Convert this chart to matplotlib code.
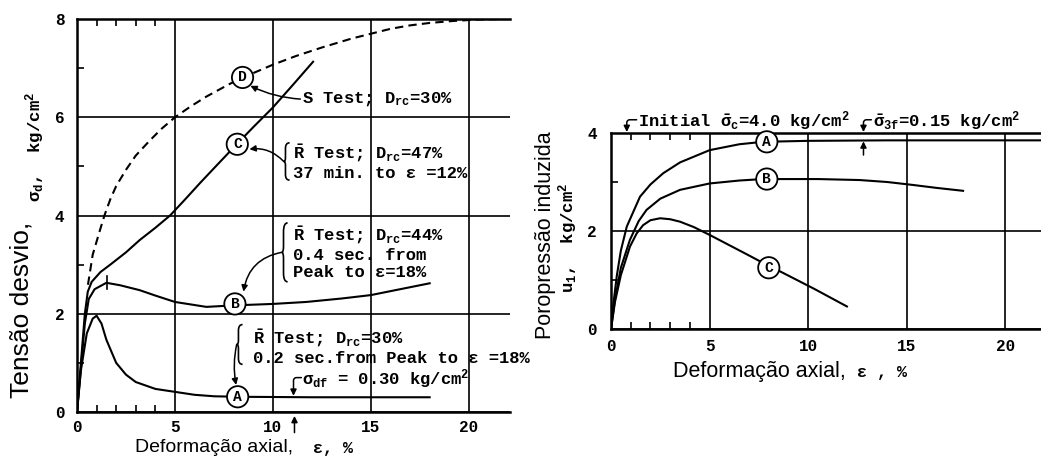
import matplotlib
matplotlib.use("Agg")
import matplotlib.pyplot as plt
from matplotlib.ticker import FixedLocator
from matplotlib.path import Path
from matplotlib.patches import PathPatch

plt.rcParams['mathtext.fontset'] = 'custom'
plt.rcParams['mathtext.rm'] = 'Liberation Mono:bold'
plt.rcParams['mathtext.it'] = 'Liberation Mono:bold'
plt.rcParams['mathtext.bf'] = 'Liberation Mono:bold'
plt.rcParams['mathtext.sf'] = 'Liberation Mono:bold'

MONO = 'Liberation Mono'
SANS = 'Liberation Sans'

# painel esquerdo: tensao desvio x deformacao axial
def_a = [0, 0.2, 0.5, 0.8, 1.0, 1.25, 1.5, 2.0, 2.5, 3.0, 4.0, 5.0, 6.0, 7.0, 8.2, 12.0, 18.0]
sig_a = [0, 0.85, 1.6, 1.9, 1.96, 1.8, 1.47, 1.0, 0.76, 0.61, 0.47, 0.41, 0.35, 0.32, 0.31, 0.30, 0.30]
def_b = [0, 0.2, 0.4, 0.6, 0.9, 1.5, 2.2, 3.2, 4.0, 5.0, 6.6, 8.0, 10.0, 11.7, 13.5, 15.0, 16.5, 18.0]
sig_b = [0, 0.9, 1.8, 2.3, 2.5, 2.63, 2.58, 2.48, 2.37, 2.24, 2.14, 2.17, 2.2, 2.24, 2.31, 2.38, 2.5, 2.62]
def_c = [0, 0.2, 0.4, 0.55, 0.75, 1.2, 1.7, 2.5, 3.2, 4.0, 4.75, 5.5, 6.3, 7.2, 8.2, 9.0, 10.0, 11.0, 12.05]
sig_c = [0, 1.0, 2.0, 2.45, 2.65, 2.85, 3.0, 3.25, 3.5, 3.75, 4.0, 4.32, 4.67, 5.05, 5.47, 5.8, 6.2, 6.65, 7.13]
def_d = [0.56, 0.8, 1.17, 1.4, 1.7, 2.0, 2.5, 3.0, 3.7, 4.3, 5.0, 5.8, 6.6, 7.8, 9.0, 10.0,
         11.2, 12.5, 14.0, 15.0, 16.0, 17.0, 18.0, 19.2, 20.5, 22.0]
sig_d = [2.59, 3.2, 3.7, 4.0, 4.33, 4.6, 4.93, 5.22, 5.52, 5.76, 6.0, 6.22, 6.42, 6.68, 6.9, 7.07,
         7.25, 7.42, 7.6, 7.7, 7.8, 7.87, 7.92, 7.96, 7.99, 8.0]
rotulos_esq = ['A', 'B', 'C', 'D']
pos_rotulos_esq = [(8.2, 0.31), (8.06, 2.2), (8.18, 5.45), (8.45, 6.81)]

# painel direito: poropressao induzida x deformacao axial
def2_a = [0, 0.1, 0.3, 0.5, 0.8, 1.47, 2.0, 2.65, 3.5, 5.0, 6.5, 7.7, 10.0, 14.0, 18.0, 21.8]
u_a = [0, 0.45, 1.1, 1.6, 2.09, 2.7, 2.95, 3.18, 3.4, 3.65, 3.77, 3.82, 3.84, 3.85, 3.85, 3.85]
def2_b = [0, 0.2, 0.5, 0.96, 1.4, 1.8, 2.5, 3.5, 5.0, 6.5, 7.7, 8.6, 10.5, 12.6, 14.0, 15.3, 16.5, 17.85]
u_b = [0, 0.6, 1.25, 1.82, 2.2, 2.43, 2.66, 2.84, 2.97, 3.03, 3.06, 3.06, 3.06, 3.04, 3.0, 2.94, 2.88, 2.82]
def2_c = [0, 0.2, 0.5, 0.96, 1.3, 1.63, 2.0, 2.49, 3.0, 3.5, 4.2, 5.0, 6.0, 7.0, 7.7, 8.6, 10.3, 11.96]
u_c = [0, 0.55, 1.1, 1.68, 1.95, 2.12, 2.22, 2.26, 2.24, 2.19, 2.08, 1.92, 1.71, 1.5, 1.35, 1.17, 0.82, 0.46]
rotulos_dir = ['A', 'B', 'C']
pos_rotulos_dir = [(7.9, 3.82), (7.9, 3.06), (8.0, 1.25)]

W, H = 1041, 462
fig = plt.figure(figsize=(W / 100, H / 100), dpi=100)


def eixo(rect, xmax, ymax, ymenor, ygrade):
    ax = fig.add_axes(rect)
    ax.set_xlim(0, xmax)
    ax.set_ylim(0, ymax)
    ax.spines['right'].set_visible(False)
    for s in ['left', 'bottom', 'top']:
        ax.spines[s].set_linewidth(1.8)
    ax.set_xticks([0, 5, 10, 15, 20])
    ax.set_yticks(ygrade)
    ax.xaxis.set_minor_locator(FixedLocator([1, 2, 3, 4]))
    ax.yaxis.set_minor_locator(FixedLocator(ymenor))
    ax.tick_params(which='major', length=0)
    ax.tick_params(which='minor', direction='in', length=5, width=1.2,
                   top=True, bottom=True, left=True, right=False)
    ax.grid(True, which='major', color='black', lw=1.2)
    for lab in ax.get_xticklabels() + ax.get_yticklabels():
        lab.set_fontfamily(MONO)
        lab.set_fontweight('bold')
        lab.set_fontsize(11.5)
    return ax


def rotulo(ax, letra, x, y):
    ax.text(x, y, letra, ha='center', va='center', fontfamily=MONO,
            fontweight='bold', fontsize=10.5, zorder=5,
            bbox=dict(boxstyle='circle,pad=0.25', fc='white', ec='black', lw=1.3))


def chave(ax, x, y0, y1, w):
    # chave "{" desenhada com curvas
    ym = (y0 + y1) / 2
    h = y1 - y0
    verts = [(x + w, y1), (x + w * 0.3, y1), (x + w * 0.3, y1 - h * 0.15),
             (x + w * 0.3, ym + h * 0.1),
             (x + w * 0.3, ym), (x, ym),
             (x + w * 0.3, ym), (x + w * 0.3, ym - h * 0.1),
             (x + w * 0.3, y0 + h * 0.15),
             (x + w * 0.3, y0), (x + w, y0)]
    codes = [Path.MOVETO, Path.CURVE3, Path.CURVE3, Path.LINETO,
             Path.CURVE3, Path.CURVE3, Path.CURVE3, Path.CURVE3, Path.LINETO,
             Path.CURVE3, Path.CURVE3]
    ax.add_patch(PathPatch(Path(verts, codes), fc='none', ec='black', lw=1.2))


def seta(ax, xy, xytext, estilo='arc3,rad=0'):
    ax.annotate('', xy=xy, xytext=xytext, annotation_clip=False,
                arrowprops=dict(arrowstyle='-|>', connectionstyle=estilo, lw=1.1,
                                color='black', shrinkA=0, shrinkB=0, mutation_scale=9))


txt = dict(fontfamily=MONO, fontweight='bold', fontsize=12.3, va='center', ha='left')

# ---------------- painel esquerdo ----------------
ax1 = eixo([77 / W, 1 - 412 / H, (510 - 77) / W, (412 - 19) / H], 22.1, 8,
           [1, 3, 5, 7], [0, 2, 4, 6, 8])
ax1.tick_params(which='major', axis='y', pad=9)
ax1.tick_params(which='major', axis='x', pad=6)

ax1.plot(def_a, sig_a, color='black', lw=1.5)
ax1.plot(def_b, sig_b, color='black', lw=1.5)
ax1.plot(def_c, sig_c, color='black', lw=1.5)
ax1.plot(def_d, sig_d, color='black', lw=1.5, linestyle=(0, (4, 2.5)))
ax1.plot([1.53, 1.53], [2.5, 2.76], color='black', lw=1.2)
for letra, (x, y) in zip(rotulos_esq, pos_rotulos_esq):
    rotulo(ax1, letra, x, y)

ax1.text(11.5, 6.37, r"S Test; D$_{\rm rc}$=30%", **txt)
seta(ax1, (8.85, 6.64), (11.4, 6.37), 'arc3,rad=-0.1')

ax1.text(11.0, 5.1, "$\\bar{\\rm R}$ Test; D$_{\\rm rc}$=47%\n37 min. to ε =12%",
         linespacing=1.15, **txt)
chave(ax1, 10.55, 4.72, 5.48, 0.3)
seta(ax1, (8.8, 5.35), (10.55, 5.1), 'arc3,rad=0.25')

ax1.text(11.0, 3.25, "$\\bar{\\rm R}$ Test; D$_{\\rm rc}$=44%\n0.4 sec. from\nPeak to ε=18%",
         linespacing=1.15, **txt)
chave(ax1, 10.45, 2.65, 3.85, 0.3)
seta(ax1, (8.5, 2.45), (10.45, 3.25), 'arc3,rad=0.35')

ax1.text(9.0, 1.32, "$\\bar{\\rm R}$ Test; D$_{\\rm rc}$=30%\n0.2 sec.from Peak to ε =18%",
         linespacing=1.15, **txt)
chave(ax1, 8.15, 0.97, 1.78, 0.3)
seta(ax1, (8.12, 0.55), (8.15, 1.375), 'arc3,rad=0.1')

ax1.text(11.5, 0.66, r"$\sigma_{\rm df}$ = 0.30 kg/cm$^2$", **txt)
seta(ax1, (11.05, 0.33), (11.45, 0.7), 'angle,angleA=0,angleB=90,rad=3')
seta(ax1, (11.1, -0.08), (11.1, -0.42))

# ---------------- painel direito ----------------
ax2 = eixo([611 / W, 1 - 329 / H, (1041 - 611) / W, (329 - 133) / H], 21.8, 4,
           [1, 3], [0, 2, 4])
ax2.tick_params(which='major', axis='y', pad=10)
ax2.tick_params(which='major', axis='x', pad=7)

ax2.plot(def2_a, u_a, color='black', lw=1.5)
ax2.plot(def2_b, u_b, color='black', lw=1.5)
ax2.plot(def2_c, u_c, color='black', lw=1.5)
for letra, (x, y) in zip(rotulos_dir, pos_rotulos_dir):
    rotulo(ax2, letra, x, y)

ax2.text(1.37, 4.24, r"Initial $\bar{\sigma}_{\rm c}$=4.0 kg/cm$^2$", **txt)
seta(ax2, (0.8, 4.02), (1.3, 4.27), 'angle,angleA=0,angleB=90,rad=3')
ax2.text(13.3, 4.24, r"$\bar{\sigma}_{\rm 3f}$=0.15 kg/cm$^2$", **txt)
seta(ax2, (12.8, 4.02), (13.2, 4.27), 'angle,angleA=0,angleB=90,rad=3')
seta(ax2, (12.8, 3.83), (12.8, 3.55))

# ---------------- rotulos dos eixos ----------------
fig.text(22 / W, 1 - 310 / H, "Tensão desvio,", rotation=90, ha='center', va='center',
         fontfamily=SANS, fontsize=19)
fig.text(35 / W, 1 - 147 / H, r"$\sigma_{\rm d}$,  kg/cm$^2$", rotation=90, ha='center',
         va='center', fontfamily=MONO, fontweight='bold', fontsize=12.5)
fig.text(135 / W, 1 - 448 / H, "Deformação axial,", ha='left', va='center',
         fontfamily=SANS, fontsize=14)
fig.text(313 / W, 1 - 448 / H, "ε, %", ha='left', va='center',
         fontfamily=MONO, fontweight='bold', fontsize=12)

fig.text(545 / W, 1 - 235 / H, "Poropressão induzida", rotation=90, ha='center',
         va='center', fontfamily=SANS, fontsize=15.5)
fig.text(568 / W, 1 - 238 / H, r"u$_{\rm 1}$,  kg/cm$^2$", rotation=90, ha='center',
         va='center', fontfamily=MONO, fontweight='bold', fontsize=12.5)
fig.text(673 / W, 1 - 372 / H, "Deformação axial,", ha='left', va='center',
         fontfamily=SANS, fontsize=15.5)
fig.text(857 / W, 1 - 372 / H, "ε , %", ha='left', va='center',
         fontfamily=MONO, fontweight='bold', fontsize=12)

fig.savefig("out.png", dpi=100)
